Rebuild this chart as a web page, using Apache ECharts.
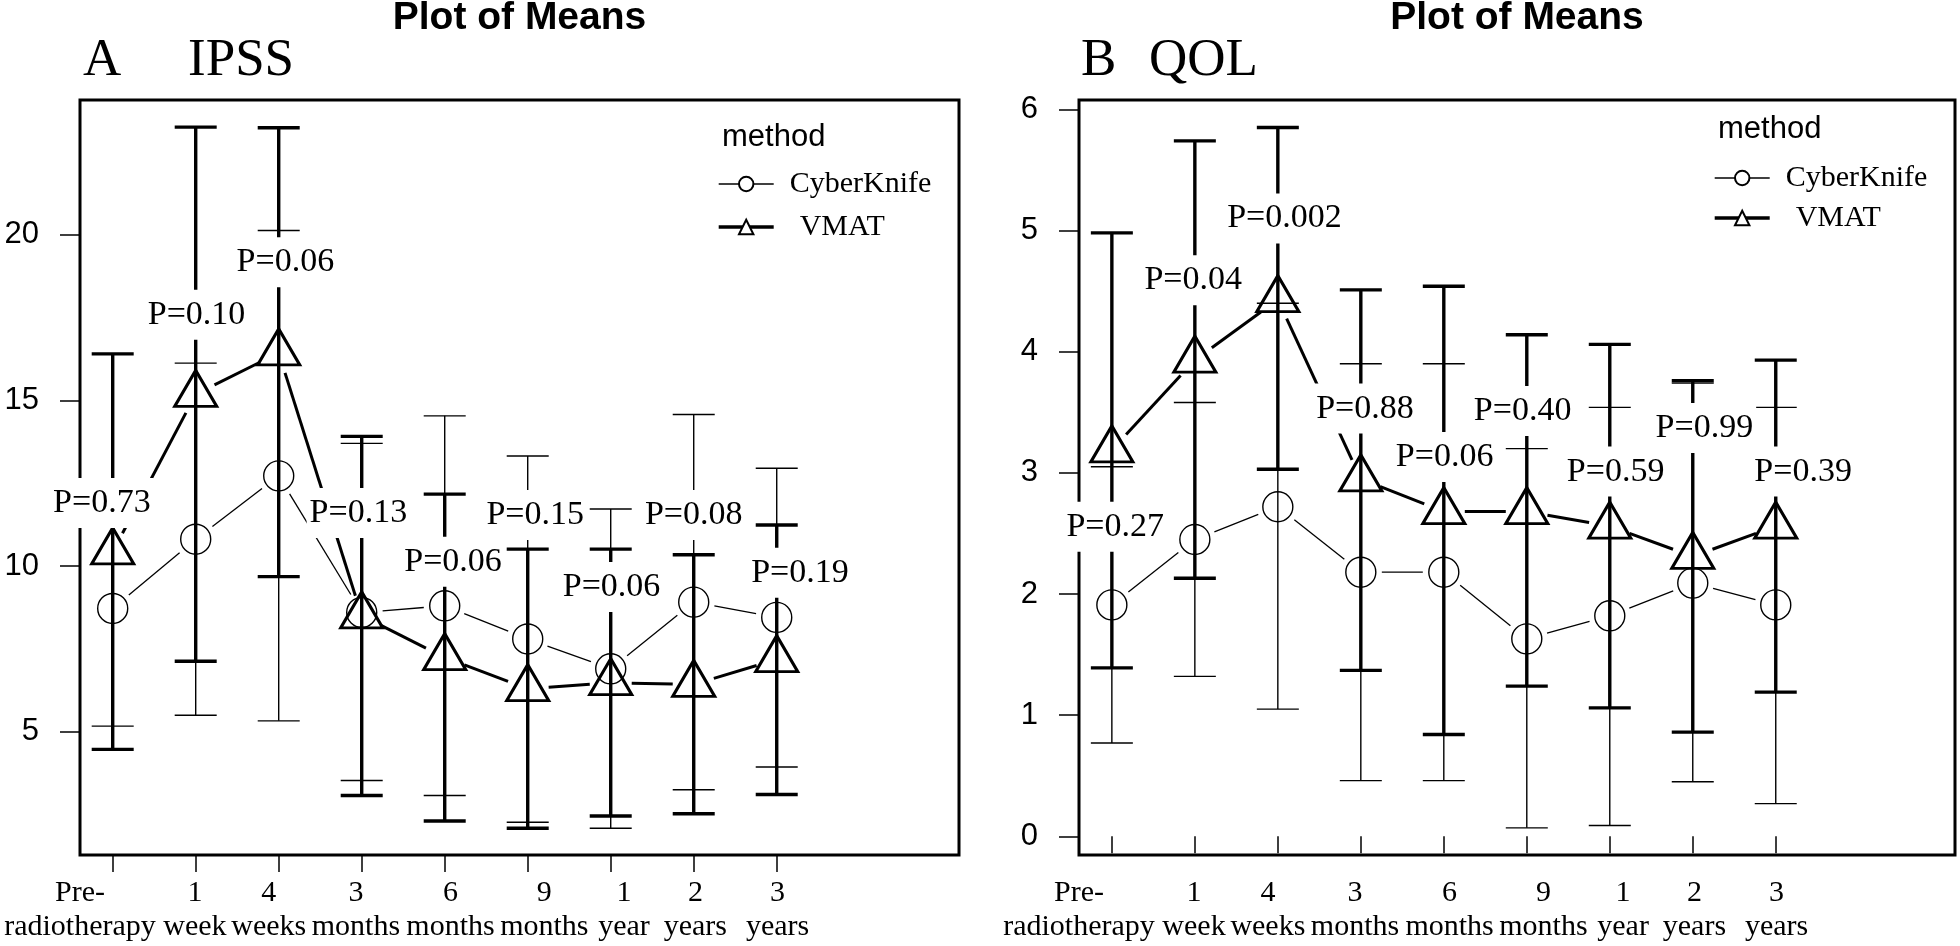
<!DOCTYPE html>
<html>
<head>
<meta charset="utf-8">
<script src="https://cdn.jsdelivr.net/npm/echarts@6/dist/echarts.min.js"></script>
<style>
html,body{margin:0;padding:0;background:#fff;}
#chart{width:1960px;height:946px;}
</style>
</head>
<body>
<div id="chart"></div>
<script>
// ---------------- data ----------------
const timepoints = ['Pre-\nradiotherapy', '1\nweek', '4\nweeks', '3\nmonths', '6\nmonths', '9\nmonths', '1\nyear', '2\nyears', '3\nyears'];

// IPSS (panel A)
const ipssCyberKnifeMean  = [8.72, 10.81, 12.72, 8.60, 8.80, 7.80, 6.90, 8.91, 8.45];
const ipssCyberKnifeLower = [5.17, 5.50, 5.33, 3.53, 3.08, 2.27, 2.09, 3.25, 3.94];
const ipssCyberKnifeUpper = [12.27, 16.12, 20.12, 13.70, 14.53, 13.32, 11.72, 14.57, 12.95];
const ipssVmatMean  = [10.43, 15.18, 16.43, 8.50, 7.24, 6.30, 6.48, 6.43, 7.18];
const ipssVmatLower = [4.47, 7.13, 9.68, 3.08, 2.31, 2.09, 2.46, 2.53, 3.11];
const ipssVmatUpper = [16.40, 23.24, 23.22, 13.91, 12.17, 10.51, 10.51, 10.34, 11.24];
const ipssTicks = [5, 10, 15, 20];
const ipssPText = ['P=0.73', 'P=0.10', 'P=0.06', 'P=0.13', 'P=0.06', 'P=0.15', 'P=0.06', 'P=0.08', 'P=0.19'];
const ipssPAtX  = [0.87, 2.01, 3.08, 3.96, 5.10, 6.09, 7.01, 8.00, 9.28];
const ipssPAtY  = [11.90, 17.58, 19.16, 11.60, 10.13, 11.54, 9.37, 11.54, 9.80];

// QOL (panel B)
const qolCyberKnifeMean  = [1.91, 2.45, 2.72, 2.18, 2.18, 1.63, 1.82, 2.09, 1.91];
const qolCyberKnifeLower = [0.77, 1.32, 1.05, 0.46, 0.46, 0.07, 0.09, 0.45, 0.27];
const qolCyberKnifeUpper = [3.05, 3.58, 4.40, 3.90, 3.90, 3.20, 3.54, 3.74, 3.54];
const qolVmatMean  = [3.19, 3.93, 4.43, 2.95, 2.68, 2.68, 2.56, 2.31, 2.56];
const qolVmatLower = [1.39, 2.13, 3.03, 1.37, 0.84, 1.24, 1.06, 0.86, 1.19];
const qolVmatUpper = [4.98, 5.74, 5.85, 4.51, 4.54, 4.14, 4.06, 3.76, 3.93];
const qolTicks = [0, 1, 2, 3, 4, 5, 6];
const qolPText = ['P=0.27', 'P=0.04', 'P=0.002', 'P=0.88', 'P=0.06', 'P=0.40', 'P=0.59', 'P=0.99', 'P=0.39'];
const qolPAtX  = [1.04, 1.98, 3.08, 4.05, 5.01, 5.95, 7.07, 8.14, 9.33];
const qolPAtY  = [2.555, 4.59, 5.10, 3.53, 3.13, 3.51, 3.01, 3.37, 3.01];

// ---------------- styling ----------------
const SERIF = '"Liberation Serif", "Times New Roman", Times, serif';
const SANS = '"Liberation Sans", Arial, Helvetica, sans-serif';
const THIN = 1.4, THICK = 3.4, GAP = 21, CAP = 21;
const xLabelShift = [-0.40, -0.01, -0.12, -0.07, 0.07, 0.20, 0.16, 0.02, 0.01]; // label offset from its tick (axis units)
const tickPos = timepoints.map((t, i) => i + 1);

function segRender(lw) {
  return function (params, api) {
    const a = api.coord([api.value(0), api.value(1)]);
    const b = api.coord([api.value(2), api.value(3)]);
    const dx = b[0] - a[0], dy = b[1] - a[1], L = Math.hypot(dx, dy);
    if (L <= 2 * GAP) return null;
    const ux = dx / L, uy = dy / L;
    return {
      type: 'line',
      shape: { x1: a[0] + ux * GAP, y1: a[1] + uy * GAP, x2: b[0] - ux * GAP, y2: b[1] - uy * GAP },
      style: { stroke: '#000', lineWidth: lw }
    };
  };
}
function errRender(lw) {
  return function (params, api) {
    const x = api.value(0);
    const lo = api.coord([x, api.value(1)]);
    const hi = api.coord([x, api.value(2)]);
    const st = { stroke: '#000', lineWidth: lw };
    return {
      type: 'group', children: [
        { type: 'line', shape: { x1: lo[0], y1: lo[1], x2: hi[0], y2: hi[1] }, style: st },
        { type: 'line', shape: { x1: lo[0] - CAP, y1: lo[1], x2: lo[0] + CAP, y2: lo[1] }, style: st },
        { type: 'line', shape: { x1: hi[0] - CAP, y1: hi[1], x2: hi[0] + CAP, y2: hi[1] }, style: st }
      ]
    };
  };
}
const segs = m => m.slice(0, -1).map((v, i) => [i + 1, v, i + 2, m[i + 1]]);
const bars = (lo, hi) => lo.map((v, i) => [i + 1, v, hi[i]]);
const pts = m => m.map((v, i) => [i + 1, v]);

const panels = [
  { grid: { left: 80, top: 100, width: 879, height: 755 }, xr: [0.606, 11.196], yr: [1.284, 24.057], ticks: ipssTicks,
    ck: [ipssCyberKnifeMean, ipssCyberKnifeLower, ipssCyberKnifeUpper],
    vm: [ipssVmatMean, ipssVmatLower, ipssVmatUpper],
    p: [ipssPText, ipssPAtX, ipssPAtY] },
  { grid: { left: 1079, top: 100, width: 876, height: 755 }, xr: [0.604, 11.16], yr: [-0.154, 6.077], ticks: qolTicks,
    ck: [qolCyberKnifeMean, qolCyberKnifeLower, qolCyberKnifeUpper],
    vm: [qolVmatMean, qolVmatLower, qolVmatUpper],
    p: [qolPText, qolPAtX, qolPAtY] }
];

const grids = [], xAxes = [], yAxes = [];
const series = [
  // legend-only series (define the legend keys)
  { type: 'line', name: 'CyberKnife', data: [], xAxisIndex: 0, yAxisIndex: 0, symbol: 'emptyCircle',
    itemStyle: { color: '#000' }, lineStyle: { color: '#000', width: THIN } },
  { type: 'line', name: 'VMAT', data: [], xAxisIndex: 0, yAxisIndex: 0, symbol: 'emptyTriangle',
    itemStyle: { color: '#000' }, lineStyle: { color: '#000', width: THICK } }
];

panels.forEach((P, k) => {
  const labelPos = tickPos.map((t, i) => Math.max(P.xr[0], t + xLabelShift[i]));
  grids.push(Object.assign({ show: true, borderColor: '#000', borderWidth: 3, backgroundColor: 'transparent',
    containLabel: false, outerBoundsMode: 'none' }, P.grid));
  xAxes.push({
    gridIndex: k, type: 'value', min: P.xr[0], max: P.xr[1],
    axisLine: { show: false }, splitLine: { show: false },
    axisTick: { show: true, customValues: tickPos, length: 17, lineStyle: { color: '#000', width: 1.5 } },
    axisLabel: {
      show: true, customValues: labelPos, margin: 21, hideOverlap: false, showMinLabel: true, showMaxLabel: true,
      color: '#000', fontFamily: SERIF, fontSize: 30, lineHeight: 34,
      formatter: function (v) {
        let best = 0;
        labelPos.forEach((p, i) => { if (Math.abs(p - v) < Math.abs(labelPos[best] - v)) best = i; });
        return timepoints[best];
      }
    }
  });
  yAxes.push({
    gridIndex: k, type: 'value', min: P.yr[0], max: P.yr[1],
    axisLine: { show: false }, splitLine: { show: false },
    axisTick: { show: true, customValues: P.ticks, length: 20, lineStyle: { color: '#000', width: 1.5 } },
    axisLabel: { show: true, customValues: P.ticks, margin: 41, color: '#000', fontFamily: SANS, fontSize: 31,
      hideOverlap: false, showMinLabel: true, showMaxLabel: true }
  });
  const common = { xAxisIndex: k, yAxisIndex: k, silent: true, animation: false };
  [['CyberKnife', P.ck, THIN], ['VMAT', P.vm, THICK]].forEach(([name, d, lw]) => {
    series.push(Object.assign({ type: 'custom', name: name, renderItem: segRender(lw === THIN ? 1.3 : 3.0),
      encode: { x: [0, 2], y: [1, 3] }, data: segs(d[0]), z: 2 }, common));
    series.push(Object.assign({ type: 'custom', name: name, renderItem: errRender(lw),
      encode: { x: 0, y: [1, 2] }, data: bars(d[1], d[2]), z: 3 }, common));
  });
  series.push(Object.assign({ type: 'scatter', name: 'CyberKnife', data: pts(P.ck[0]), symbol: 'circle', symbolSize: 30,
    itemStyle: { color: 'rgba(0,0,0,0)', borderColor: '#000', borderWidth: 1.4, opacity: 1 },
    emphasis: { disabled: true }, z: 4 }, common));
  series.push(Object.assign({ type: 'scatter', name: 'VMAT', data: pts(P.vm[0]), symbol: 'triangle', symbolSize: [42, 36],
    symbolOffset: [0, -6],
    itemStyle: { color: 'rgba(0,0,0,0)', borderColor: '#000', borderWidth: 3, opacity: 1 },
    emphasis: { disabled: true }, z: 4 }, common));
  series.push(Object.assign({ type: 'scatter', name: 'p-values',
    data: P.p[0].map((t, i) => ({ name: t, value: [P.p[1][i], P.p[2][i]] })),
    symbolSize: 1, itemStyle: { color: 'rgba(0,0,0,0)', opacity: 1 }, emphasis: { disabled: true },
    label: { show: true, position: 'inside', formatter: '{b}', color: '#000', opacity: 1, fontFamily: SERIF, fontSize: 34,
      lineHeight: 34, backgroundColor: '#fff', padding: [12, 3, 4, 3], textBorderWidth: 0 },
    z: 20 }, common));
});

const legendText = {
  fontFamily: SERIF, fontSize: 30, color: '#000',
  rich: {
    c: { fontFamily: SERIF, fontSize: 30, lineHeight: 30, color: '#000', padding: [0, 0, 0, 11] },
    v: { fontFamily: SERIF, fontSize: 30, lineHeight: 30, color: '#000', padding: [0, 0, 0, 21] }
  }
};
const legendData = [{ name: 'CyberKnife', lineStyle: { width: THIN } }, { name: 'VMAT', lineStyle: { width: THICK } }];
const legendFmt = n => n === 'VMAT' ? '{v|VMAT}' : '{c|CyberKnife}';

const txt = (text, x, y, font, align) => ({
  type: 'text', x: x, y: y, silent: true,
  style: { text: text, font: font, fill: '#000', align: align || 'left', verticalAlign: 'middle' }
});

const option = {
  animation: false,
  backgroundColor: '#fff',
  grid: grids,
  xAxis: xAxes,
  yAxis: yAxes,
  legend: [
    { data: legendData, orient: 'vertical', left: 717, top: 169, itemWidth: 55, itemHeight: 18, itemGap: 13,
      padding: 0, selectedMode: false, formatter: legendFmt, textStyle: legendText },
    { data: legendData, orient: 'vertical', left: 1713, top: 163, itemWidth: 55, itemHeight: 18, itemGap: 10,
      padding: 0, selectedMode: false, formatter: legendFmt, textStyle: legendText }
  ],
  graphic: [
    txt('Plot of Means', 519.5, 18.5, 'bold 39px ' + SANS, 'center'),
    txt('Plot of Means', 1517, 18.5, 'bold 39px ' + SANS, 'center'),
    txt('A', 83, 61.5, '53px ' + SERIF),
    txt('IPSS', 188, 61.5, '53px ' + SERIF),
    txt('B', 1081, 61.5, '53px ' + SERIF),
    txt('QOL', 1149, 61.5, '53px ' + SERIF),
    txt('method', 722, 137.5, '31px ' + SANS),
    txt('method', 1718, 129, '31px ' + SANS)
  ],
  series: series
};

const chart = echarts.init(document.getElementById('chart'), null, { renderer: 'canvas' });
chart.setOption(option);
</script>
</body>
</html>
